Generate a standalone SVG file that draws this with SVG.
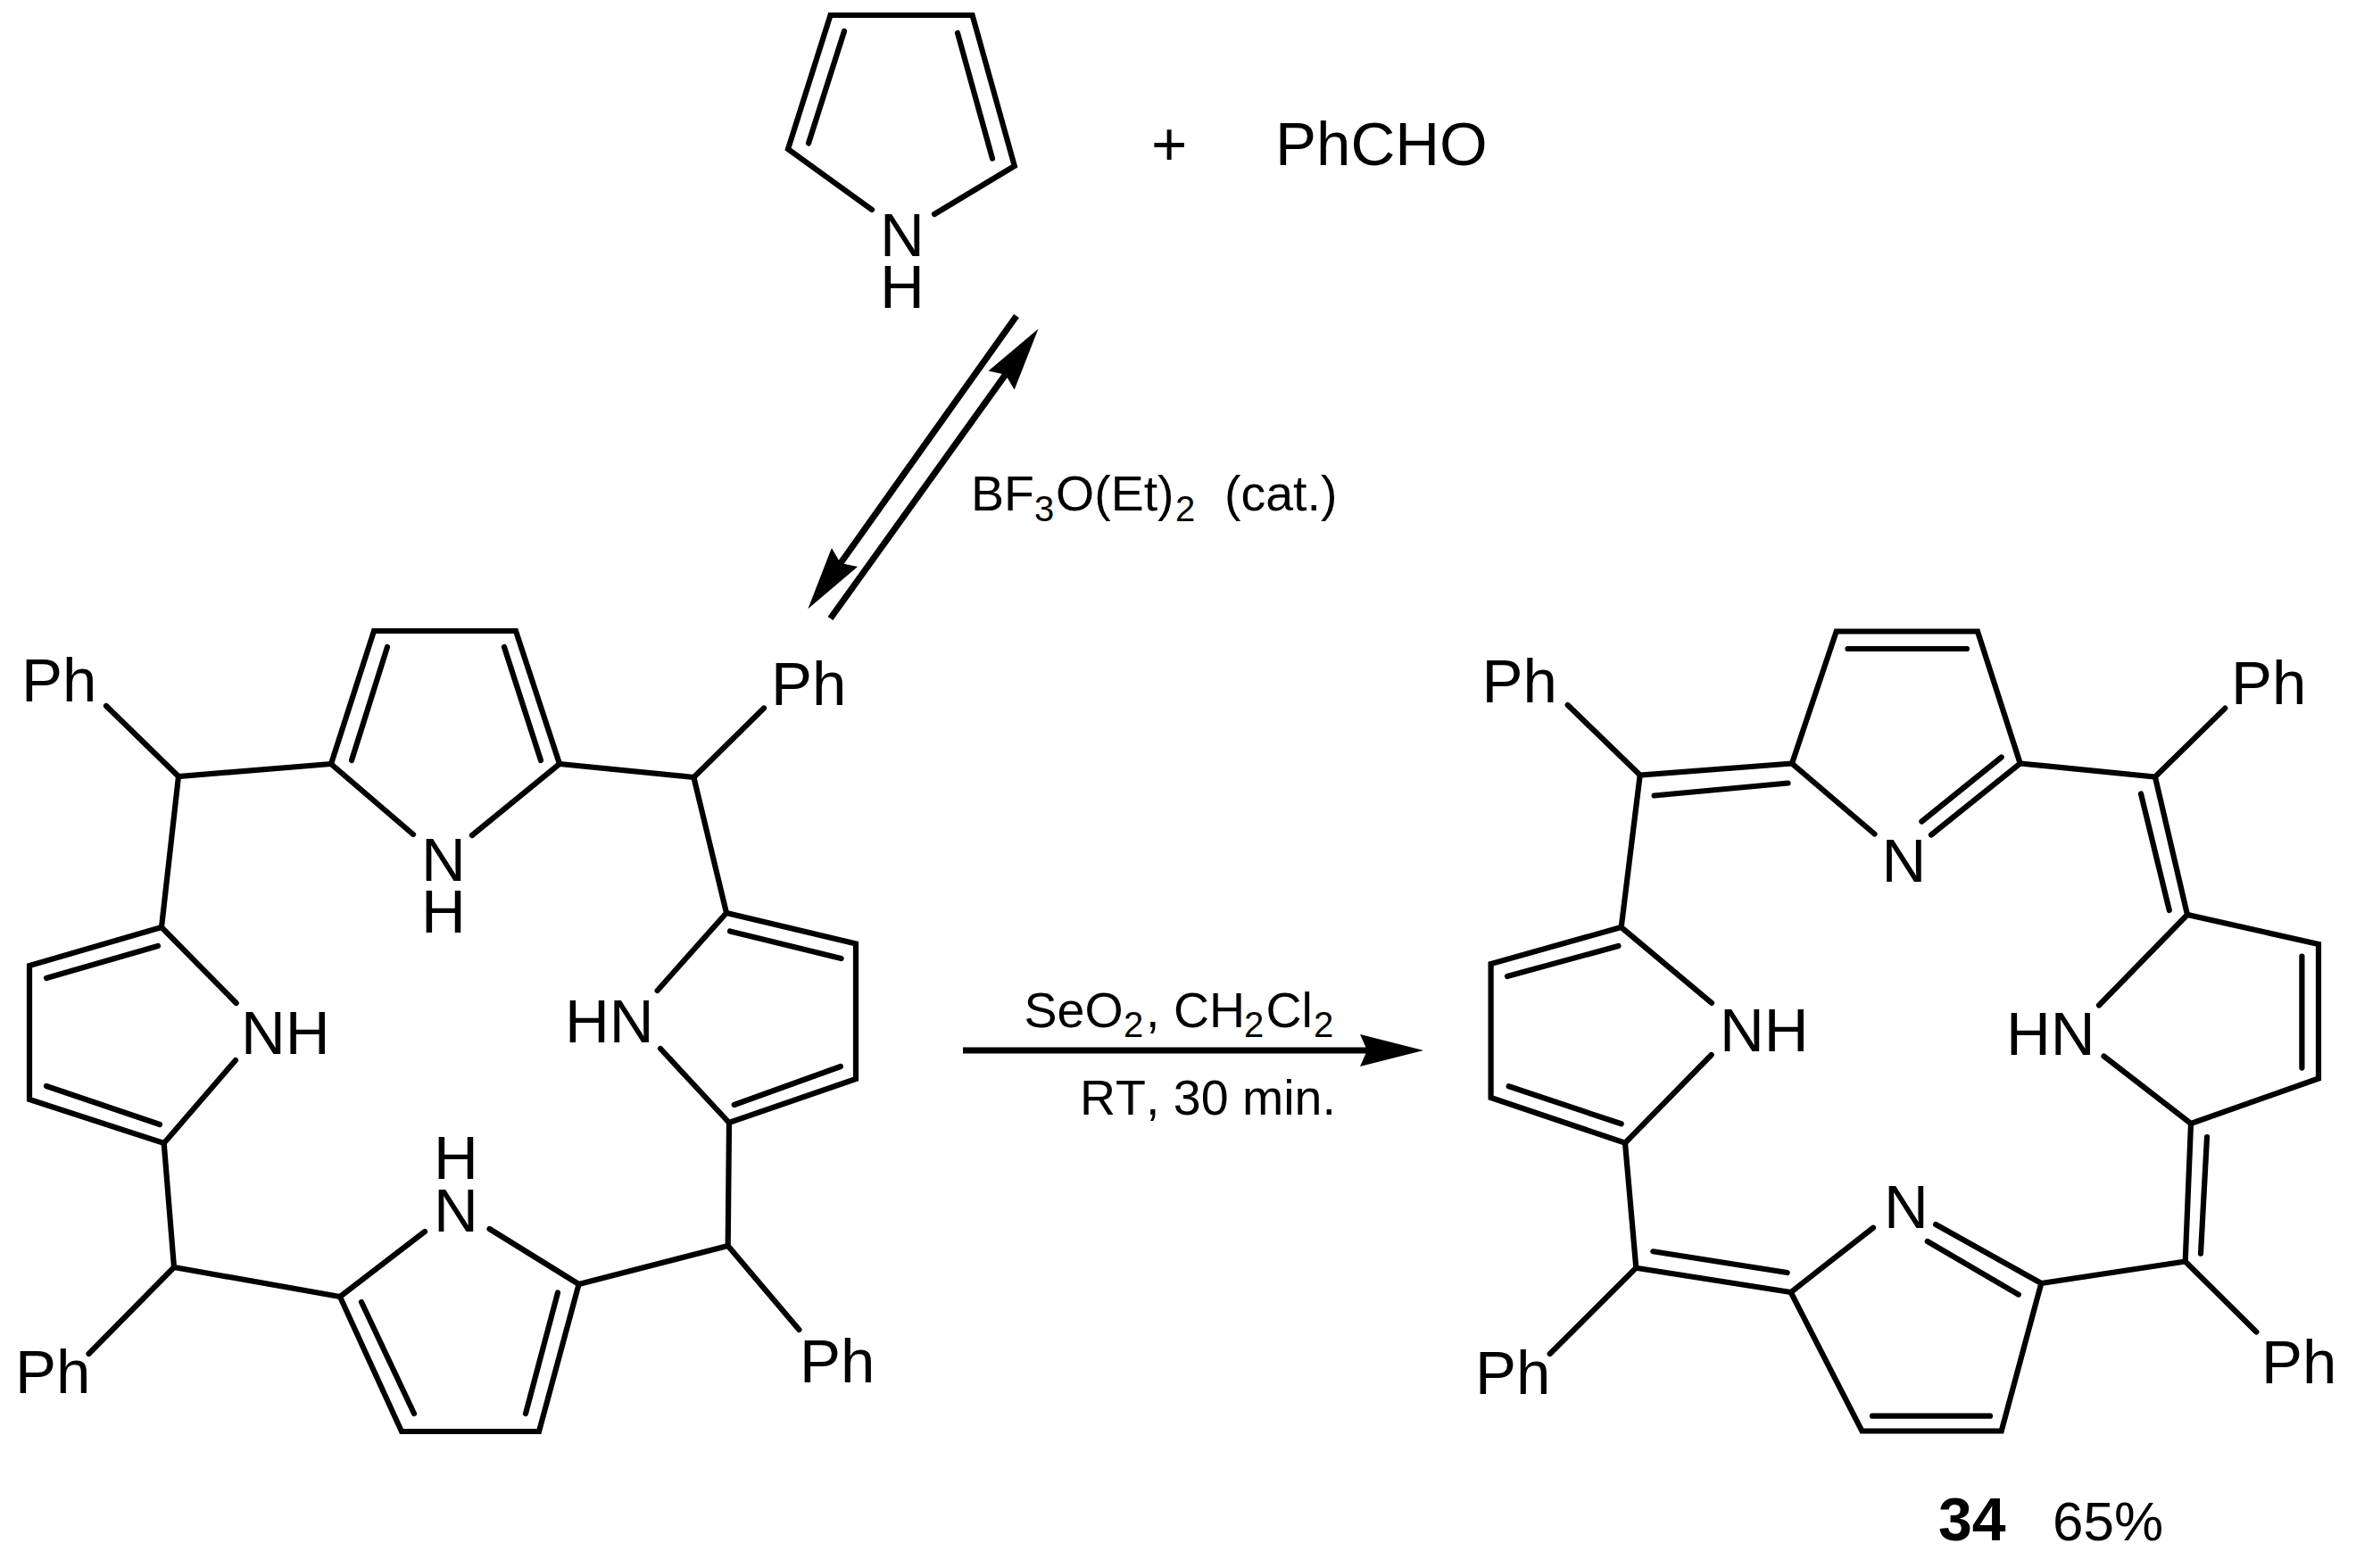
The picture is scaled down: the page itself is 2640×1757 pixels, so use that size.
<svg xmlns="http://www.w3.org/2000/svg" width="2640" height="1757" viewBox="0 0 2640 1757">
<style>
text{font-family:"Liberation Sans",Arial,sans-serif;fill:#000;font-kerning:none}
.a{font-size:69px}
.r{font-size:55.5px}
.s{font-size:40px}
.b{fill:none;stroke:#000;stroke-width:6.2;stroke-linejoin:miter;stroke-linecap:round}
.m{text-anchor:middle}
.c{fill:none;stroke:#000;stroke-width:7.2;marker-end:url(#head)}
</style>
<defs><marker id="head" markerUnits="userSpaceOnUse" markerWidth="71" markerHeight="36" viewBox="0 0 71 36" refX="8" refY="18" orient="auto"><path d="M0 0L71 18L0 36L8 18Z" fill="#000"/></marker></defs>
<rect width="2640" height="1757" fill="#fff"/>
<g id="pyrrole">
<path class="b" d="M977 235L883 167L930.5 17H1089.6L1136.8 186L1047 240M946 35L906 160.5M1073 37L1112 177.6"/>
<text class="a m" x="1011" y="287">N</text><text class="a m" x="1011" y="345">H</text>
</g>
<g id="plus"><text class="a" x="1290" y="185">+</text></g>
<g id="benzaldehyde"><text class="a" x="1429" y="185">PhCHO</text></g>
<g id="porphyrinogen">
<path class="b" d="M463 935L371 856L419 707H578L627 856L529 936M434 725L394 852M565 725L606 852"/>
<path class="b" d="M371 856L200 870L119 791M627 856L777.4 871L856 793.5M200 870L181 1039M777.4 871L814 1023"/>
<path class="b" d="M264.700 1124L181 1039L33 1082V1232L183.700 1281L264 1188M177 1060L52 1096M52 1217L179 1260"/>
<path class="b" d="M183.700 1281L195 1420L99.500 1517M195 1420L381 1453M648.600 1439L815.700 1396L895.400 1490M815.700 1396L817 1258"/>
<path class="b" d="M476 1380L381 1453L450 1604H604L648.600 1439L548.500 1377M405 1459L464 1584M625 1448.500L589 1584"/>
<path class="b" d="M736.600 1110L814 1023L959 1057.500V1209L817 1258L740 1175M818 1043.500L942.600 1074M822.700 1238L942 1195"/>
<text class="a m" x="497" y="987">N</text><text class="a m" x="497" y="1045">H</text>
<text class="a m" x="511" y="1380">N</text><text class="a m" x="511" y="1321">H</text>
<text class="a" x="270" y="1181">NH</text><text class="a" x="633" y="1168">HN</text>
<text class="a" x="24" y="786">Ph</text><text class="a" x="864" y="790">Ph</text>
<text class="a" x="17" y="1561">Ph</text><text class="a" x="896" y="1549">Ph</text>
</g>
<g id="porphyrin-34">
<path class="b" d="M2100.500 934.500L2008 855.500L2057.700 707.500H2216L2263.700 855.500L2164 935.500M2070.500 727H2204M2242.700 848.500L2153.400 920.500"/>
<path class="b" d="M2008 855.500L1837.700 868.500L1756.700 790M1853.600 891.500L2003.500 877.500M1837.700 868.500L1816.700 1039"/>
<path class="b" d="M2263.700 855.500L2414.900 870.500L2493.300 793.600M2414.900 870.500L2451 1025M2399 889.500L2430.800 1020"/>
<path class="b" d="M1918 1123.800L1816.700 1039L1670.600 1080V1230L1821 1280.700L1917.700 1182M1813.500 1060L1689 1094M1690.700 1217.300L1816.700 1259.300"/>
<path class="b" d="M2352 1126.500L2451 1025L2598 1058V1208.500L2455 1259L2357.500 1183.500M2579.400 1071.500V1196.600"/>
<path class="b" d="M1821 1280.700L1833.300 1420.700L1736.700 1517M1833.300 1420.700L2006.700 1448M1852.300 1402.300L2002.700 1426"/>
<path class="b" d="M2099 1375.700L2006.700 1448L2086.400 1603.500H2242.700L2287.300 1438L2169 1372M2098 1586.700H2230M2159.800 1391L2261.800 1450.600"/>
<path class="b" d="M2287.300 1438L2448.700 1413.500L2528.400 1492.500M2448.700 1413.500L2455 1259M2473 1274L2466 1404.600"/>
<text class="a m" x="2133.500" y="987.500">N</text><text class="a m" x="2136" y="1375.500">N</text>
<text class="a" x="1927" y="1177.500">NH</text><text class="a" x="2248" y="1181.500">HN</text>
<text class="a" x="1660.500" y="787">Ph</text><text class="a" x="2500" y="789">Ph</text>
<text class="a" x="1653" y="1562">Ph</text><text class="a" x="2534" y="1550">Ph</text>
<text x="2172" y="1726" font-size="68" font-weight="700">34</text>
<text x="2300" y="1726" font-size="62">65%</text>
</g>
<g id="connectors">
<path class="c" d="M1139 354L941.900 631"/>
<path class="c" d="M930.500 693L1126.700 419.700"/>
<path class="c" d="M1079 1177H1532"/>
</g>
<g id="labels">
<text class="r" x="1088" y="572">BF<tspan class="s" x="1159" y="584">3</tspan><tspan x="1183" y="572">O(Et)</tspan><tspan class="s" x="1317" y="584">2</tspan><tspan x="1372" y="572">(cat.)</tspan></text>
<text class="r" x="1147.500" y="1151">SeO<tspan class="s" x="1259" y="1162">2</tspan><tspan x="1284" y="1151">,</tspan><tspan x="1315" y="1151">CH</tspan><tspan class="s" x="1394" y="1162">2</tspan><tspan x="1418.500" y="1151">Cl</tspan><tspan class="s" x="1472" y="1162">2</tspan></text>
<text class="r" x="1210" y="1249">RT, 30 min.</text>
</g>
</svg>
